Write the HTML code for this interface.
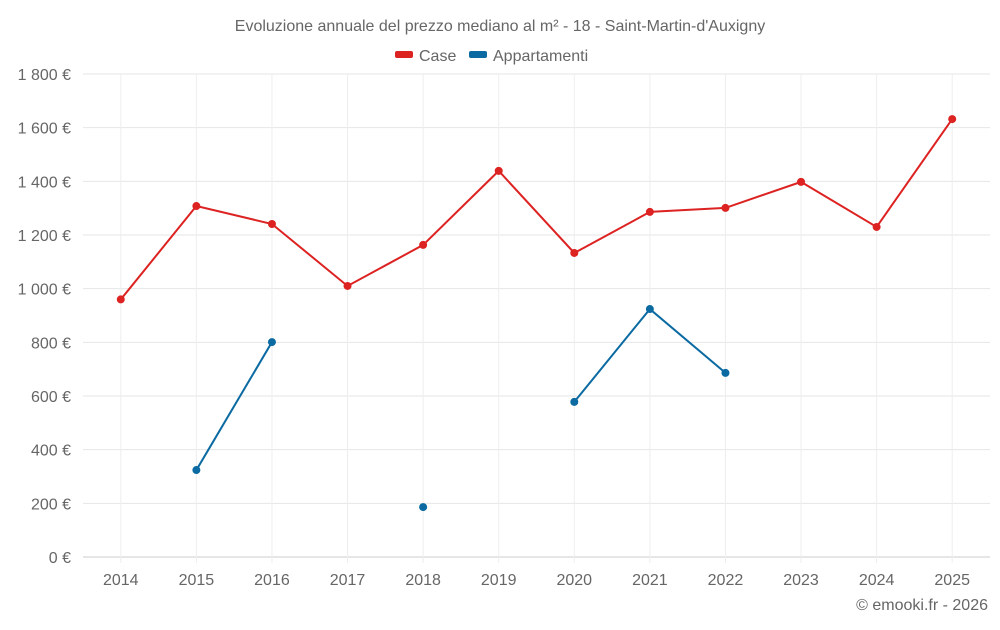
<!DOCTYPE html>
<html><head><meta charset="utf-8"><style>
body{margin:0;background:#fff;font-family:"Liberation Sans",sans-serif}
svg text{font-family:"Liberation Sans",sans-serif;fill:#666}
</style></head><body>
<svg width="1000" height="625" viewBox="0 0 1000 625">
<text x="500" y="31" text-anchor="middle" font-size="16">Evoluzione annuale del prezzo mediano al m² - 18 - Saint-Martin-d'Auxigny</text>
<g>
<g><rect x="395" y="51" width="18" height="7" rx="2" fill="#dd2222"/><text x="419" y="61" font-size="16" fill="#444">Case</text></g>
<g><rect x="469" y="51" width="18" height="7" rx="2" fill="#0a6aa1"/><text x="493" y="61" font-size="16" fill="#444">Appartamenti</text></g>
</g>
<g id="grid"></g><g id="axes"></g><g id="series"></g>
<text x="988" y="610" text-anchor="end" font-size="16">© emooki.fr - 2026</text>
</svg>
<script>
const years=["2014","2015","2016","2017","2018","2019","2020","2021","2022","2023","2024","2025"];
const caseValues=[960,1308,1241,1010,1163,1439,1133,1286,1301,1398,1230,1632];
const appValues=[null,324,801,null,186,null,578,924,686,null,null,null];
const yTicks=[0,200,400,600,800,1000,1200,1400,1600,1800];
const yTickLabels=["0 €","200 €","400 €","600 €","800 €","1 000 €","1 200 €","1 400 €","1 600 €","1 800 €"];
const L=83,R=990,T=74,B=557,maxV=1800;
const bw=(R-L)/years.length;
const xs=i=>L+bw*(i+0.5);
const ys=v=>B-(v/maxV)*(B-T);
const NS="http://www.w3.org/2000/svg";
function mk(tag,attrs,parent){const e=document.createElementNS(NS,tag);for(const k in attrs)e.setAttribute(k,attrs[k]);parent.appendChild(e);return e;}
const grid=document.getElementById('grid'),axes=document.getElementById('axes'),series=document.getElementById('series');
yTicks.forEach((v,i)=>{
 const l=mk('line',{x1:L,x2:R,y1:ys(v),y2:ys(v),stroke:v===0?'#ccc':'#e6e6e6'},grid);
 
 
 const t=mk('text',{x:L-12,y:ys(v)+6,'text-anchor':'end','font-size':'16'},axes);
 t.textContent=yTickLabels[i];
 
 
});
years.forEach((y,i)=>{
 const l=mk('line',{x1:xs(i),x2:xs(i),y1:T,y2:B+6,stroke:'#eeeeee'},grid);
 
 
 const t=mk('text',{x:xs(i),y:B+28,'text-anchor':'middle','font-size':'16'},axes);
 t.textContent=y;
 
 
});
function draw(vals,color,name){
 let seg=[];const segs=[];
 vals.forEach((v,i)=>{if(v==null){if(seg.length)segs.push(seg);seg=[];}else seg.push([xs(i),ys(v)]);});
 if(seg.length)segs.push(seg);
 segs.forEach(s=>{if(s.length>1){const p=mk('polyline',{points:s.map(q=>q.join(',')).join(' '),fill:'none',stroke:color,'stroke-width':2},series);
  
  }});
 vals.forEach((v,i)=>{if(v==null)return;const c=mk('circle',{cx:xs(i),cy:ys(v),r:4,fill:color},series);
  
  });
}
draw(caseValues,'#dd2222','case');
draw(appValues,'#0a6aa1','appartamenti');
</script>
</body></html>
